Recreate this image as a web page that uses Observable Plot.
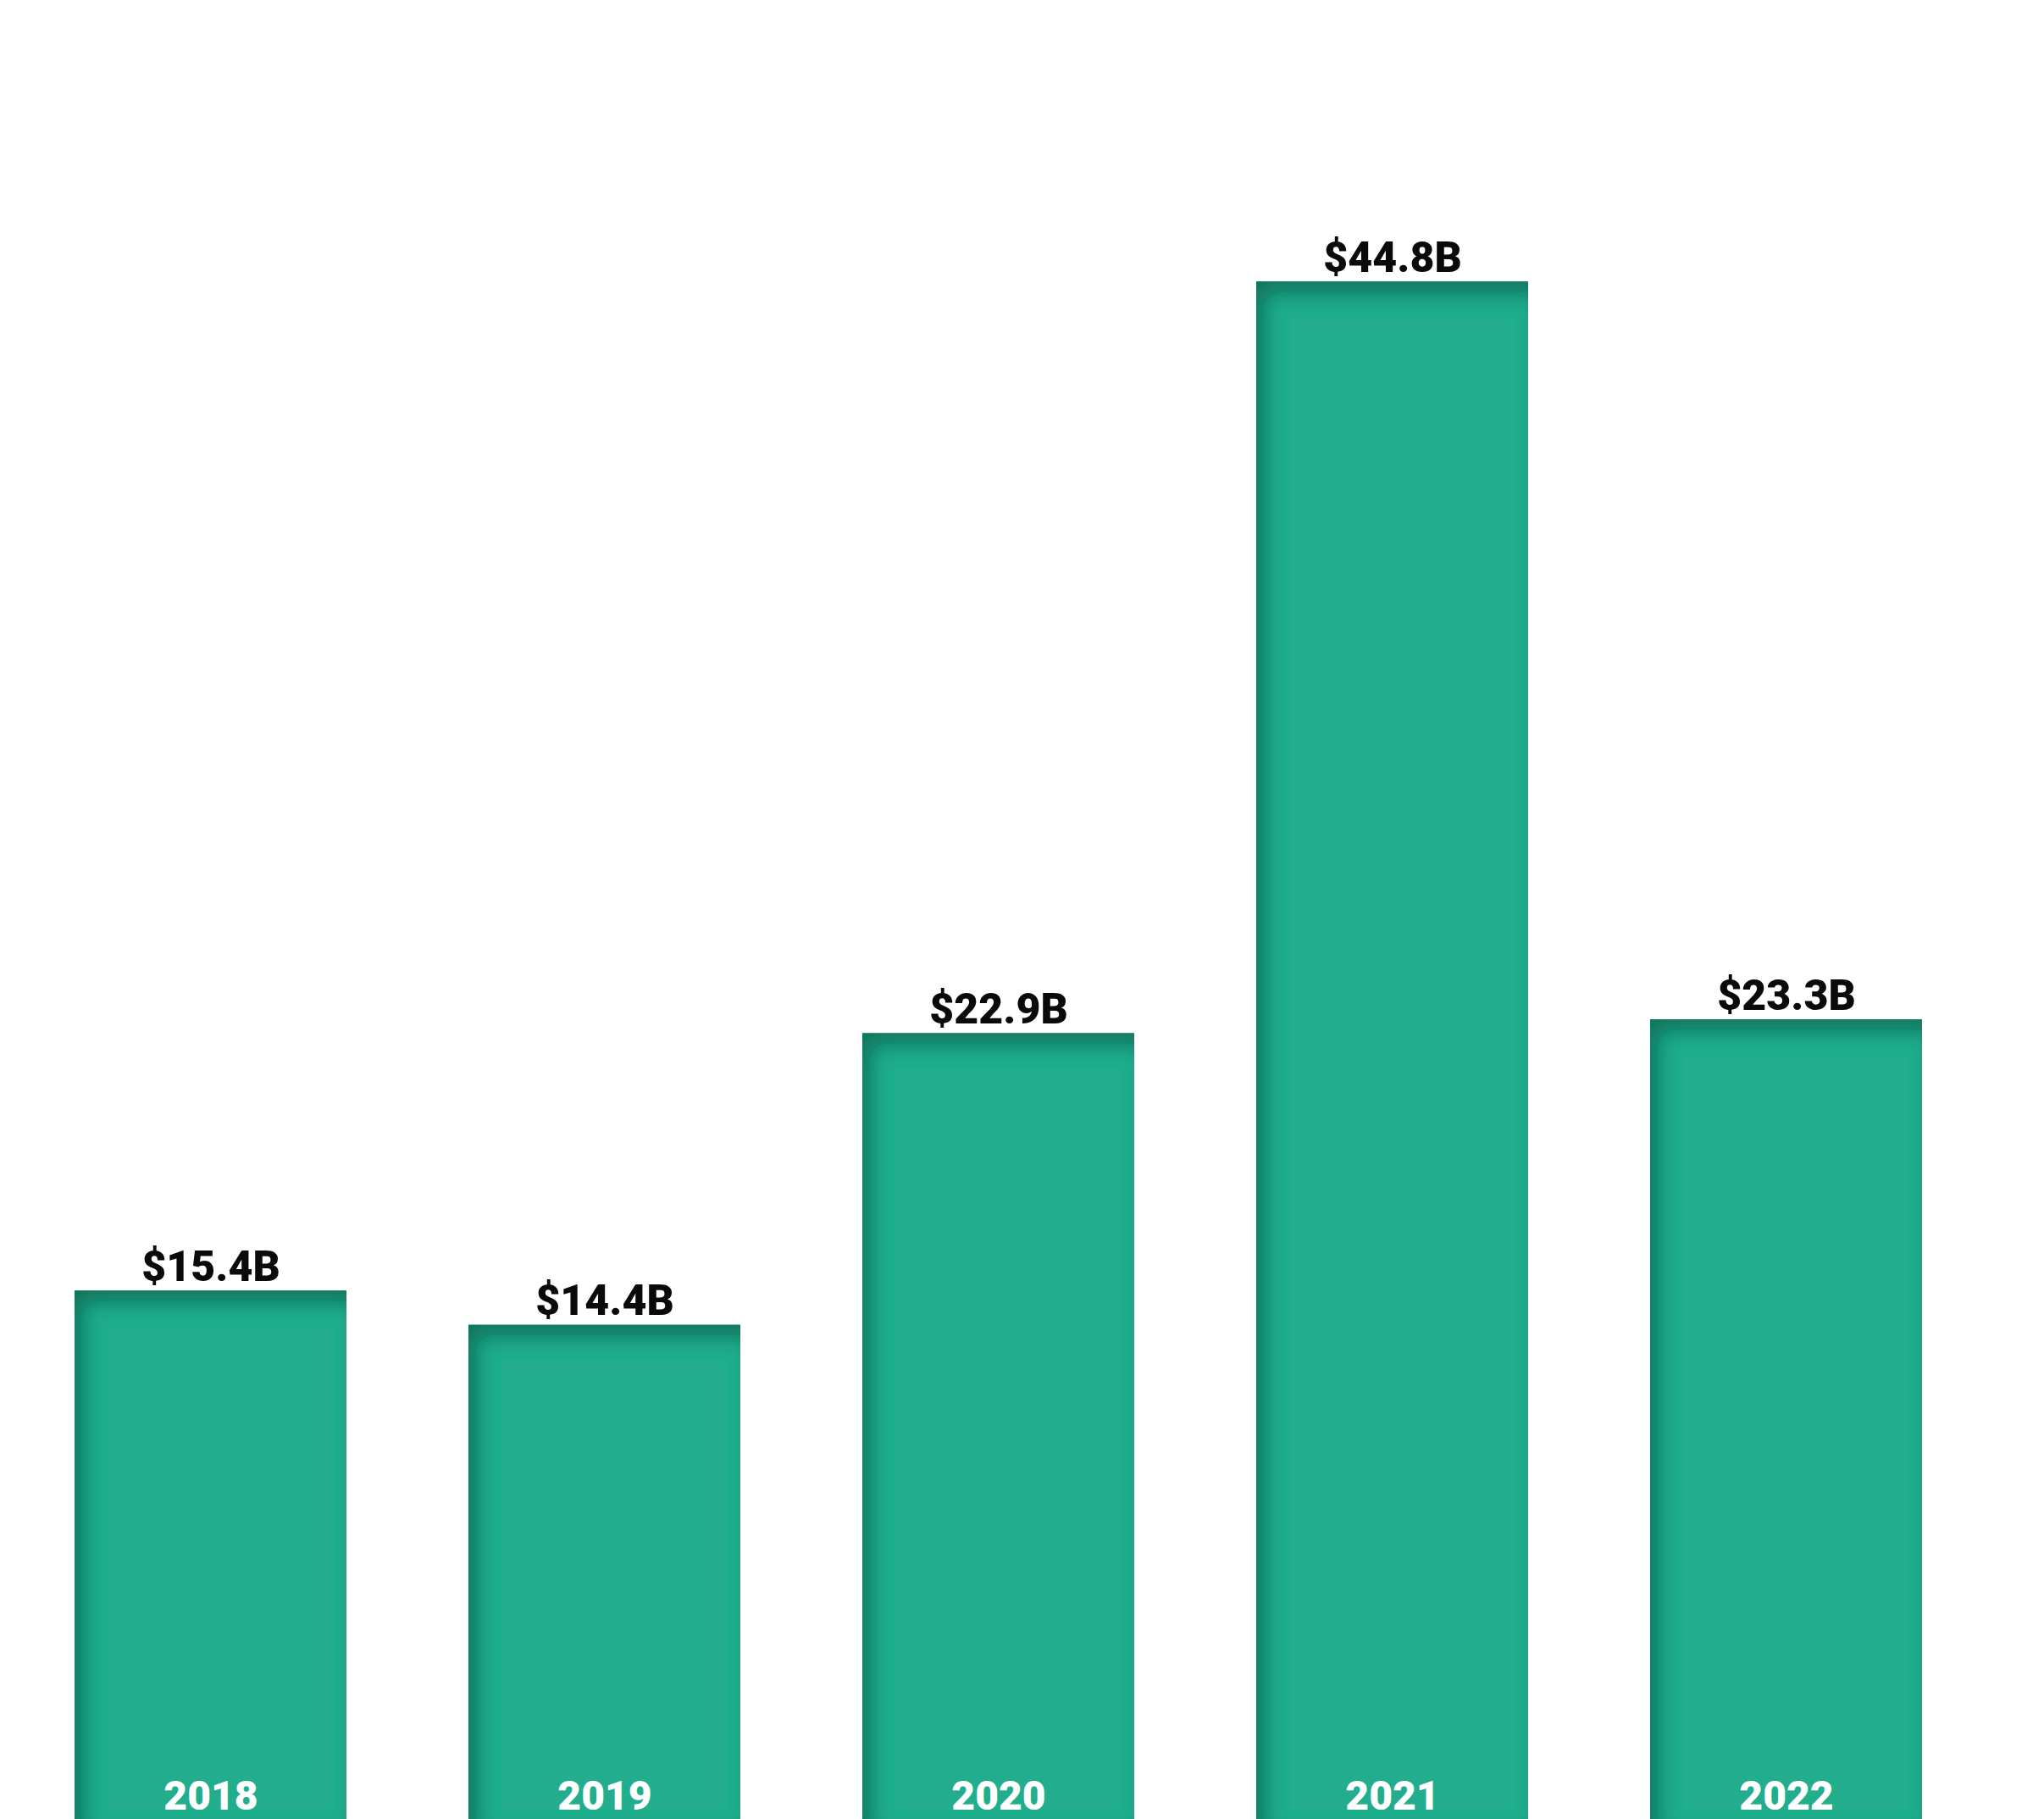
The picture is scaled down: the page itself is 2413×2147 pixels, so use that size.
<!DOCTYPE html>
<html>
<head>
<meta charset="utf-8">
<script src="https://cdn.jsdelivr.net/npm/d3@7"></script>
<script src="https://cdn.jsdelivr.net/npm/@observablehq/plot@0.6"></script>
<style>
  html, body { margin: 0; padding: 0; background: #ffffff; }
  #chart svg { display: block; }
</style>
</head>
<body>
<div id="chart"></div>
<script>
const years = ["2018", "2019", "2020", "2021", "2022"];
const values = [15.4, 14.4, 22.9, 44.8, 23.3];
const valueLabels = ["$15.4B", "$14.4B", "$22.9B", "$44.8B", "$23.3B"];

const data = years.map((y, i) => ({year: y, value: values[i], label: valueLabels[i]}));

const svg = Plot.plot({
  width: 2413,
  height: 2147,
  marginLeft: 88,
  marginRight: 144,
  marginTop: 0,
  marginBottom: 0,
  style: {background: "#ffffff", fontFamily: "Roboto, 'Noto Sans', sans-serif"},
  x: {domain: years, paddingInner: 0.31, paddingOuter: 0, axis: null},
  y: {domain: [0, 53], axis: null},
  marks: [
    Plot.barY(data, {x: "year", y: "value", fill: "#22ad8c"}),
    Plot.text(data, {
      x: "year", y: "value", text: "label",
      lineAnchor: "bottom", dy: -12,
      fontSize: 50, fontWeight: 900, fill: "#0a0a0a"
    }),
    Plot.text(data, {
      x: "year", y: 0, text: "year",
      lineAnchor: "bottom", dy: -12,
      fontSize: 48, fontWeight: 900, fill: "#ffffff"
    })
  ]
});

// inset shadow along the top and left edges of each bar
const ns = "http://www.w3.org/2000/svg";
const defs = document.createElementNS(ns, "defs");
defs.innerHTML = `
  <filter id="inset" x="-5%" y="-5%" width="110%" height="110%">
    <feOffset in="SourceAlpha" dx="12" dy="16" result="off"/>
    <feGaussianBlur in="off" stdDeviation="11" result="blur"/>
    <feComposite in="SourceAlpha" in2="blur" operator="out" result="inv"/>
    <feFlood flood-color="#0b6450" flood-opacity="0.8"/>
    <feComposite in2="inv" operator="in" result="shadow"/>
    <feMerge><feMergeNode in="SourceGraphic"/><feMergeNode in="shadow"/></feMerge>
  </filter>`;
svg.insertBefore(defs, svg.firstChild);
d3.select(svg).selectAll('g[aria-label="bar"]').attr("filter", "url(#inset)");

document.getElementById("chart").appendChild(svg);
</script>
</body>
</html>
